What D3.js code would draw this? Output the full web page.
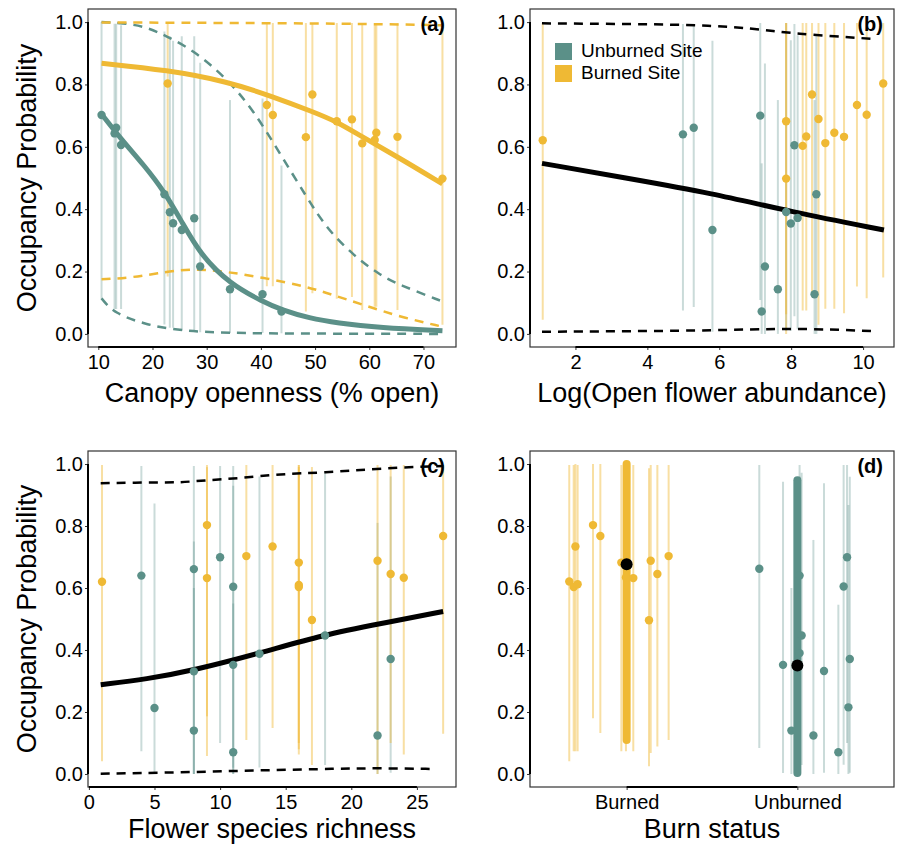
<!DOCTYPE html>
<html>
<head>
<meta charset="utf-8">
<script src="https://cdn.jsdelivr.net/npm/d3@7"></script>
<style>
body { margin: 0; background: #fff; }
text { font-family: "Liberation Sans", Arial, sans-serif; fill: #000; }
</style>
</head>
<body>
<svg id="chart" width="906" height="845"></svg>
<script>
// ---------------- data ----------------
// (a) canopy openness
var aUnbX  = [10.6, 13.0, 13.3, 14.2, 22.2, 23.2, 23.8, 25.4, 27.7, 28.8, 34.3, 40.3, 43.8];
var aUnbP  = [0.702, 0.643, 0.661, 0.606, 0.448, 0.39, 0.355, 0.333, 0.371, 0.216, 0.143, 0.127, 0.072];
var aUnbLo = [0.11, 0.08, 0.08, 0.08, 0.03, 0.02, 0.02, 0.01, 0.01, 0.005, 0.003, 0.003, 0.002];
var aUnbHi = [1.0, 0.995, 0.995, 0.99, 0.97, 0.955, 0.94, 0.955, 0.955, 0.87, 0.75, 0.755, 0.54];

var aBurX  = [22.8, 41.1, 42.2, 48.3, 49.5, 54.0, 56.8, 58.7, 61.0, 61.3, 65.2, 73.5];
var aBurP  = [0.803, 0.734, 0.702, 0.631, 0.768, 0.682, 0.688, 0.611, 0.622, 0.645, 0.632, 0.498];
var aBurLo = [0.184, 0.153, 0.153, 0.072, 0.13, 0.113, 0.118, 0.077, 0.087, 0.087, 0.077, 0.029];
var aBurHi = [0.997, 0.997, 0.997, 0.997, 0.997, 0.997, 0.997, 0.997, 0.997, 0.997, 0.997, 0.997];

var aUnbFitX = [10.6, 14.2, 18.5, 22.2, 25.4, 28.8, 34.3, 40.3, 43.8, 49, 54, 62, 73.5];
var aUnbFit  = [0.705, 0.625, 0.54, 0.456, 0.36, 0.255, 0.16, 0.104, 0.077, 0.05, 0.035, 0.02, 0.01];
var aUnbUpX  = [10.6, 14.5, 18.9, 22.8, 27.5, 33.7, 38.6, 43.5, 48.4, 52.1, 57.0, 61.9, 65.6, 73.5];
var aUnbUp   = [1.0, 0.997, 0.985, 0.953, 0.91, 0.82, 0.718, 0.579, 0.44, 0.339, 0.253, 0.189, 0.157, 0.104];
var aUnbLowX = [10.6, 12.9, 18.9, 25.1, 34, 45, 73.5];
var aUnbLow  = [0.114, 0.066, 0.029, 0.01, 0.003, 0.001, 0.0];

var aBurFitX = [10.6, 22.8, 33.7, 42.2, 49.5, 54, 58.7, 65.2, 73.5];
var aBurFit  = [0.868, 0.846, 0.81, 0.761, 0.713, 0.681, 0.632, 0.568, 0.481];
var aBurUpX  = [10.6, 40, 60, 73.5];
var aBurUp   = [0.999, 0.997, 0.994, 0.99];
var aBurLowX = [10.6, 15.8, 20.8, 26.9, 33.7, 41.1, 48.4, 53.3, 58.9, 65.6, 73.5];
var aBurLow  = [0.175, 0.18, 0.194, 0.21, 0.2, 0.178, 0.152, 0.125, 0.093, 0.055, 0.023];

// (b) log open flower abundance
var bUnbX  = [4.99, 5.29, 5.81, 7.14, 7.27, 7.18, 7.63, 7.86, 7.99, 8.09, 8.18, 8.65, 8.70];
var bUnbP  = [0.64, 0.661, 0.333, 0.70, 0.216, 0.072, 0.143, 0.391, 0.354, 0.605, 0.372, 0.127, 0.448];
var bUnbLo = [0.075, 0.086, 0.007, 0.109, 0.0, 0.0, 0.0, 0.01, 0.01, 0.057, 0.015, 0.0, 0.0];
var bUnbHi = [0.994, 0.994, 0.94, 0.997, 0.867, 0.547, 0.75, 0.997, 0.942, 0.994, 0.958, 0.75, 0.958];

var bBurX  = [1.09, 7.86, 7.86, 8.32, 8.42, 8.58, 8.76, 8.95, 9.20, 9.47, 9.83, 10.10, 10.56];
var bBurP  = [0.621, 0.682, 0.498, 0.603, 0.633, 0.768, 0.689, 0.612, 0.645, 0.632, 0.734, 0.703, 0.803];
var bBurLo = [0.045, 0.0, 0.063, 0.075, 0.075, 0.118, 0.029, 0.081, 0.081, 0.066, 0.152, 0.114, 0.181];
var bBurHi = [0.997, 0.997, 0.997, 0.997, 0.997, 0.997, 0.997, 0.997, 0.997, 0.997, 0.997, 0.997, 0.997];

var bFitX = [1.07, 3.5, 5.8, 7.97, 10.58];
var bFit  = [0.547, 0.498, 0.451, 0.392, 0.333];
var bUpX  = [1.07, 3.6, 5.8, 7.3, 7.97, 10.29];
var bUp   = [0.996, 0.994, 0.99, 0.975, 0.964, 0.946];
var bLowX = [1.07, 5.8, 7.97, 10.29];
var bLow  = [0.007, 0.01, 0.019, 0.009];

// (c) flower species richness
var cBurX  = [1, 9, 9, 12, 14, 16, 16, 16, 17, 22, 23, 24, 27];
var cBurP  = [0.62, 0.803, 0.632, 0.703, 0.734, 0.682, 0.61, 0.603, 0.497, 0.688, 0.645, 0.633, 0.768];
var cBurLo = [0.041, 0.058, 0.186, 0.11, 0.148, 0.063, 0.08, 0.1, 0.029, 0.0, 0.1, 0.063, 0.13];
var cBurHi = [0.997, 0.997, 0.99, 0.997, 0.997, 0.997, 0.997, 0.99, 0.99, 0.997, 0.997, 0.997, 0.997];

var cUnbX  = [4, 5, 8, 8, 8, 10, 11, 11, 11, 13, 18, 22, 23];
var cUnbP  = [0.64, 0.213, 0.661, 0.331, 0.14, 0.699, 0.604, 0.352, 0.07, 0.388, 0.447, 0.124, 0.371];
var cUnbLo = [0.073, 0.002, 0.0, 0.0, 0.0, 0.1, 0.0, 0.02, 0.0, 0.021, 0.029, 0.0, 0.004];
var cUnbHi = [0.994, 0.873, 0.994, 0.75, 0.6, 0.994, 0.994, 0.93, 0.55, 0.96, 0.972, 0.81, 0.96];

var cFitX = [0.9, 4.4, 7.96, 13.04, 17.87, 22.2, 27.0];
var cFit  = [0.288, 0.306, 0.334, 0.39, 0.449, 0.485, 0.524];
var cUpX  = [0.9, 5.17, 6.94, 8.98, 11.52, 14.57, 17.87, 22.2, 27.0];
var cUp   = [0.938, 0.941, 0.94, 0.948, 0.954, 0.968, 0.972, 0.986, 0.994];
var cLowX = [0.9, 7, 13, 19, 22, 26.4];
var cLow  = [0.001, 0.005, 0.012, 0.017, 0.019, 0.016];

// (d) burn status, jitter in category steps
var dCats = ["Burned", "Unburned"];
var dBurJit = [-0.336, -0.31, -0.287, -0.30, -0.197, -0.154, -0.031, -0.004, 0.039, 0.141, 0.18, 0.131, 0.246];
var dBurP   = [0.621, 0.603, 0.612, 0.734, 0.803, 0.768, 0.682, 0.634, 0.632, 0.688, 0.645, 0.496, 0.703];
var dBurLo  = [0.041, 0.073, 0.073, 0.073, 0.18, 0.132, 0.073, 0.073, 0.073, 0.068, 0.089, 0.025, 0.11];
var dBurHi  = [0.997, 0.997, 0.997, 1.0, 1.0, 1.0, 0.997, 0.997, 0.997, 0.997, 0.997, 0.986, 0.997];

var dUnbJit = [-0.223, -0.084, -0.035, 0.013, 0.025, 0.013, 0.094, 0.156, 0.24, 0.271, 0.291, 0.299, 0.307];
var dUnbP   = [0.662, 0.352, 0.14, 0.64, 0.447, 0.39, 0.124, 0.332, 0.07, 0.605, 0.699, 0.215, 0.371];
var dUnbLo  = [0.084, 0.003, 0.0, 0.0, 0.029, 0.021, 0.0, 0.004, 0.0, 0.03, 0.1, 0.0, 0.004];
var dUnbHi  = [0.997, 0.943, 0.6, 0.997, 0.972, 0.96, 0.755, 0.938, 0.546, 0.997, 0.997, 0.868, 0.959];

var dSumP  = [0.677, 0.35];
var dSumLo = [0.11, 0.003];
var dSumHi = [1.0, 0.948];

var yTicks = [0, 0.2, 0.4, 0.6, 0.8, 1.0];

// ---------------- styling ----------------
var teal = "#5b9088";
var gold = "#efb934";

var svg = d3.select("#chart");

// panel boxes
var panels = {
  a: {l: 88,  t: 9,   r: 456, b: 347},
  b: {l: 530, t: 9,   r: 894, b: 347},
  c: {l: 88,  t: 451, r: 456, b: 787},
  d: {l: 530, t: 451, r: 894, b: 787}
};

var yTop = d3.scaleLinear().domain([-0.042, 1.042]).range([panels.a.b, panels.a.t]);
var yBot = d3.scaleLinear().domain([-0.042, 1.042]).range([panels.c.b, panels.c.t]);

var xA = d3.scaleLinear().domain([8.1, 76]).range([panels.a.l, panels.a.r]);
var xB = d3.scaleLinear().domain([0.736, 10.86]).range([panels.b.l, panels.b.r]);
var xC = d3.scaleLinear().domain([-0.068, 27.98]).range([panels.c.l, panels.c.r]);
var xD = d3.scalePoint().domain(dCats).range([panels.d.l, panels.d.r]).padding(0.566);

function zip(xs, ys) {
  return xs.map(function (x, i) { return [x, ys[i]]; });
}

function drawBars(g, xs, ps, lo, hi, x, y, col, op) {
  g.selectAll(null).data(xs).enter().append("line")
    .attr("x1", function (d) { return x(d); })
    .attr("x2", function (d) { return x(d); })
    .attr("y1", function (d, i) { return y(lo[i]); })
    .attr("y2", function (d, i) { return y(hi[i]); })
    .attr("stroke", col).attr("stroke-opacity", op).attr("stroke-width", 2);
}

function drawPts(g, xs, ps, x, y, col) {
  g.selectAll(null).data(xs).enter().append("circle")
    .attr("cx", function (d) { return x(d); })
    .attr("cy", function (d, i) { return y(ps[i]); })
    .attr("r", 4.2)
    .attr("fill", col);
}

function drawLine(g, xs, ys, x, y, col, w, dash) {
  // basis curve keeps the read points smooth (no kinks)
  var line = d3.line()
    .x(function (d) { return x(d[0]); })
    .y(function (d) { return y(d[1]); })
    .curve(d3.curveBasis);
  g.append("path")
    .attr("d", line(zip(xs, ys)))
    .attr("fill", "none")
    .attr("stroke", col)
    .attr("stroke-width", w)
    .attr("stroke-dasharray", dash ? "9,7" : null);
}

function drawFrame(p, x, y, xTicks, xFmt, showYTitle, xTitle, titleY) {
  var g = svg.append("g");
  g.append("rect")
    .attr("x", p.l).attr("y", p.t)
    .attr("width", p.r - p.l).attr("height", p.b - p.t)
    .attr("fill", "none").attr("stroke", "#333").attr("stroke-width", 1.2);

  // x axis
  var ax = d3.axisBottom(x).tickSize(3).tickPadding(5);
  if (xTicks) ax.tickValues(xTicks);
  if (xFmt) ax.tickFormat(xFmt);
  var gx = g.append("g").attr("transform", "translate(0," + p.b + ")").call(ax);
  gx.select(".domain").remove();
  gx.selectAll(".tick line").attr("stroke", "#333");
  gx.selectAll("text").style("font-size", "20px").style("font-family", "Liberation Sans, Arial, sans-serif").attr("fill", "#000");
  var xr = xTicks ? [x(xTicks[0]), x(xTicks[xTicks.length - 1])] : [x(x.domain()[0]), x(x.domain()[x.domain().length - 1])];
  g.append("line").attr("x1", xr[0]).attr("x2", xr[1]).attr("y1", p.b).attr("y2", p.b)
    .attr("stroke", "#000").attr("stroke-width", 2);

  // y axis
  var ay = d3.axisLeft(y).tickValues(yTicks).tickFormat(d3.format(".1f")).tickSize(3).tickPadding(2);
  var gy = g.append("g").attr("transform", "translate(" + p.l + ",0)").call(ay);
  gy.select(".domain").remove();
  gy.selectAll(".tick line").attr("stroke", "#333");
  gy.selectAll("text").style("font-size", "20px").style("font-family", "Liberation Sans, Arial, sans-serif").attr("fill", "#000");
  g.append("line").attr("x1", p.l).attr("x2", p.l).attr("y1", y(0)).attr("y2", y(1))
    .attr("stroke", "#000").attr("stroke-width", 2);

  // titles
  g.append("text")
    .attr("x", (p.l + p.r) / 2).attr("y", titleY)
    .attr("text-anchor", "middle").style("font-size", "27px")
    .text(xTitle);
  if (showYTitle) {
    g.append("text")
      .attr("transform", "translate(36," + ((p.t + p.b) / 2) + ") rotate(-90)")
      .attr("text-anchor", "middle").style("font-size", "27px")
      .text("Occupancy Probability");
  }
  return g;
}

function panelLabel(p, txt) {
  svg.append("text")
    .attr("x", p.r - 11).attr("y", p.t + 22)
    .attr("text-anchor", "end")
    .style("font-size", "20px").style("font-weight", "bold")
    .text(txt);
}

// ---------------- panel (a) ----------------
drawFrame(panels.a, xA, yTop, [10, 20, 30, 40, 50, 60, 70], null, true, "Canopy openness (% open)", 402);
var gA = svg.append("g");
drawBars(gA, aUnbX, aUnbP, aUnbLo, aUnbHi, xA, yTop, teal, 0.32);
drawBars(gA, aBurX, aBurP, aBurLo, aBurHi, xA, yTop, gold, 0.45);
drawLine(gA, aUnbUpX, aUnbUp, xA, yTop, teal, 2.5, true);
drawLine(gA, aUnbLowX, aUnbLow, xA, yTop, teal, 2.5, true);
drawLine(gA, aBurUpX, aBurUp, xA, yTop, gold, 2.5, true);
drawLine(gA, aBurLowX, aBurLow, xA, yTop, gold, 2.5, true);
drawLine(gA, aBurFitX, aBurFit, xA, yTop, gold, 5, false);
drawLine(gA, aUnbFitX, aUnbFit, xA, yTop, teal, 5, false);
drawPts(gA, aUnbX, aUnbP, xA, yTop, teal);
drawPts(gA, aBurX, aBurP, xA, yTop, gold);
panelLabel(panels.a, "(a)");

// ---------------- panel (b) ----------------
drawFrame(panels.b, xB, yTop, [2, 4, 6, 8, 10], d3.format("d"), false, "Log(Open flower abundance)", 402);
var gB = svg.append("g");
drawBars(gB, bUnbX, bUnbP, bUnbLo, bUnbHi, xB, yTop, teal, 0.32);
drawBars(gB, bBurX, bBurP, bBurLo, bBurHi, xB, yTop, gold, 0.45);
drawLine(gB, bUpX, bUp, xB, yTop, "#000", 2.5, true);
drawLine(gB, bLowX, bLow, xB, yTop, "#000", 2.5, true);
drawLine(gB, bFitX, bFit, xB, yTop, "#000", 5, false);
drawPts(gB, bUnbX, bUnbP, xB, yTop, teal);
drawPts(gB, bBurX, bBurP, xB, yTop, gold);
panelLabel(panels.b, "(b)");

// legend
var legend = [["Unburned Site", teal], ["Burned Site", gold]];
legend.forEach(function (d, i) {
  svg.append("rect").attr("x", 555).attr("y", 43 + i * 22).attr("width", 17).attr("height", 17).attr("fill", d[1]);
  svg.append("text").attr("x", 581).attr("y", 57 + i * 22).style("font-size", "19px").text(d[0]);
});

// ---------------- panel (c) ----------------
drawFrame(panels.c, xC, yBot, [0, 5, 10, 15, 20, 25], d3.format("d"), true, "Flower species richness", 838);
var gC = svg.append("g");
drawBars(gC, cUnbX, cUnbP, cUnbLo, cUnbHi, xC, yBot, teal, 0.32);
drawBars(gC, cBurX, cBurP, cBurLo, cBurHi, xC, yBot, gold, 0.45);
drawLine(gC, cUpX, cUp, xC, yBot, "#000", 2.5, true);
drawLine(gC, cLowX, cLow, xC, yBot, "#000", 2.5, true);
drawLine(gC, cFitX, cFit, xC, yBot, "#000", 5, false);
drawPts(gC, cUnbX, cUnbP, xC, yBot, teal);
drawPts(gC, cBurX, cBurP, xC, yBot, gold);
panelLabel(panels.c, "(c)");

// ---------------- panel (d) ----------------
drawFrame(panels.d, xD, yBot, null, null, false, "Burn status", 838);
var gD = svg.append("g");
var step = xD.step();
var jx = function (cat) { return function (j) { return xD(cat) + j * step; }; };
drawBars(gD, dBurJit, dBurP, dBurLo, dBurHi, jx("Burned"), yBot, gold, 0.45);
drawBars(gD, dUnbJit, dUnbP, dUnbLo, dUnbHi, jx("Unburned"), yBot, teal, 0.32);
// summary intervals
gD.selectAll(null).data(dCats).enter().append("line")
  .attr("x1", function (d) { return xD(d); })
  .attr("x2", function (d) { return xD(d); })
  .attr("y1", function (d, i) { return yBot(dSumLo[i]); })
  .attr("y2", function (d, i) { return yBot(dSumHi[i]); })
  .attr("stroke", function (d, i) { return i === 0 ? gold : teal; })
  .attr("stroke-width", 8)
  .attr("stroke-linecap", "round");
drawPts(gD, dBurJit, dBurP, jx("Burned"), yBot, gold);
drawPts(gD, dUnbJit, dUnbP, jx("Unburned"), yBot, teal);
gD.selectAll(null).data(dCats).enter().append("circle")
  .attr("cx", function (d) { return xD(d); })
  .attr("cy", function (d, i) { return yBot(dSumP[i]); })
  .attr("r", 6)
  .attr("fill", "#000");
panelLabel(panels.d, "(d)");
</script>
</body>
</html>
